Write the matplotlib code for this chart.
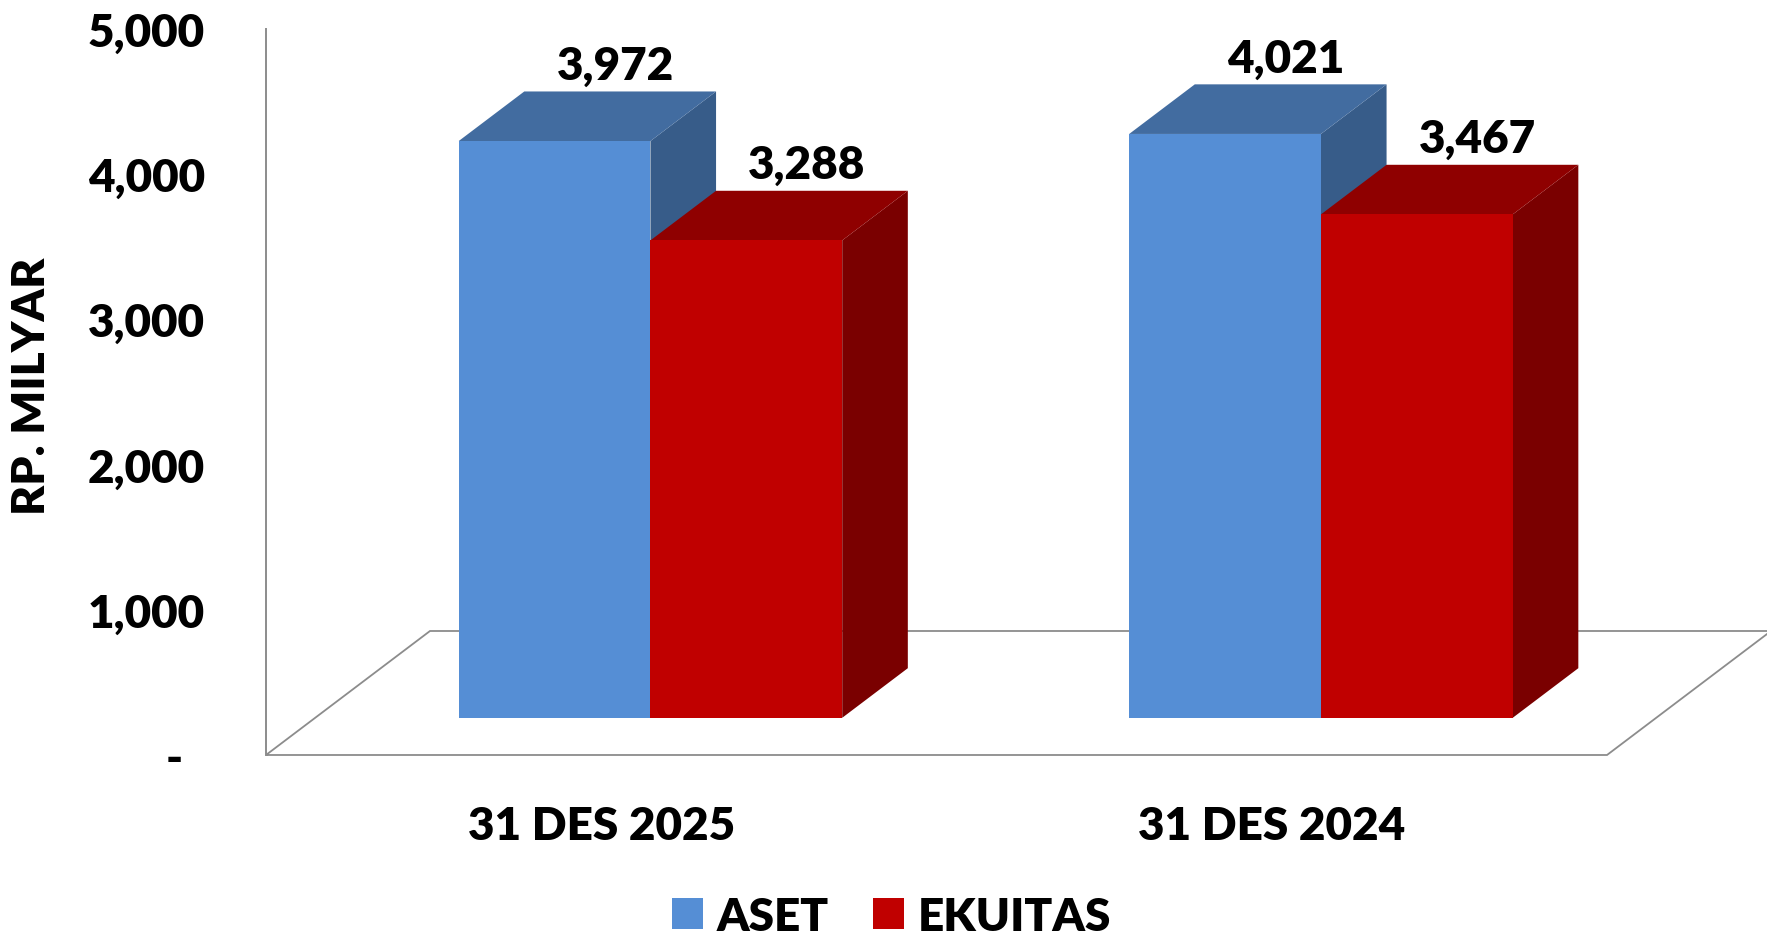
import matplotlib
matplotlib.use("Agg")
import matplotlib.pyplot as plt
from matplotlib.patches import Polygon, Patch

categories = ['31 DES 2025', '31 DES 2024']
series = ['ASET', 'EKUITAS']
aset = [3972, 4021]
ekuitas = [3288, 3467]
y_ticks = [0, 1000, 2000, 3000, 4000, 5000]
y_tick_labels = ['-', '1,000', '2,000', '3,000', '4,000', '5,000']

front_colors = ['#558ED5', '#C00000']
top_colors = ['#426CA0', '#8F0000']
side_colors = ['#375C89', '#7A0000']
line_gray = '#8C8C8C'

# oblique 3d look: the full floor depth shifts a point by (DX, DY) in data units
DX, DY = 0.2446, 854
Z0, Z1 = 0.30, 0.70      # bars sit in the middle of the floor depth
BAR_W = 0.286


def proj(x, v, z):
    return (x + z * DX, v + z * DY)


plt.rcParams['font.family'] = ['Lato', 'DejaVu Sans']
plt.rcParams['font.weight'] = 'heavy'
plt.rcParams['font.size'] = 33

fig = plt.figure(figsize=(17.67, 9.37), dpi=100)
ax = fig.add_axes([0, 0, 1, 1])
ax.set_xlim(-0.8967, 1.7386)
ax.set_ylim(-1246.6, 5206.6)

# floor
n = len(categories)
floor = [proj(-0.5, 0, 0), proj(n - 0.5, 0, 0), proj(n - 0.5, 0, 1), proj(-0.5, 0, 1)]
ax.add_patch(Polygon(floor, closed=True, fill=False, edgecolor=line_gray, lw=1.3, zorder=1))

# bars, drawn left to right so the later ones cover the earlier sides
values = [aset, ekuitas]
for i in range(n):
    for j in range(len(series)):
        v = values[j][i]
        x0 = i - BAR_W + j * BAR_W
        x1 = x0 + BAR_W
        side = [proj(x1, 0, Z0), proj(x1, 0, Z1), proj(x1, v, Z1), proj(x1, v, Z0)]
        top = [proj(x0, v, Z0), proj(x1, v, Z0), proj(x1, v, Z1), proj(x0, v, Z1)]
        front = [proj(x0, 0, Z0), proj(x1, 0, Z0), proj(x1, v, Z0), proj(x0, v, Z0)]
        ax.add_patch(Polygon(side, closed=True, facecolor=side_colors[j], edgecolor='none', zorder=2))
        ax.add_patch(Polygon(top, closed=True, facecolor=top_colors[j], edgecolor='none', zorder=2))
        ax.add_patch(Polygon(front, closed=True, facecolor=front_colors[j], edgecolor='none', zorder=2))
        lx, ly = proj((x0 + x1) / 2, v, Z1 - 0.03)
        ax.annotate(f'{v:,}', xy=(lx, ly), xytext=(0, 12), textcoords='offset points',
                    ha='center', va='baseline', zorder=3)

# value axis
for s in ['top', 'right', 'bottom']:
    ax.spines[s].set_visible(False)
ax.spines['left'].set_position(('data', -0.5))
ax.spines['left'].set_bounds(0, 5000)
ax.spines['left'].set_color(line_gray)
ax.spines['left'].set_linewidth(1.4)
ax.set_yticks(y_ticks[1:], y_tick_labels[1:])
ax.tick_params(axis='y', length=0, pad=44)
ax.set_xticks([])
ax.annotate(y_tick_labels[0], xy=(-0.5, 0), xytext=(-60, 0), textcoords='offset points',
            ha='right', va='center_baseline')

# category labels
for i, c in enumerate(categories):
    ax.annotate(c, xy=(i, 0), xytext=(0, -60.5), textcoords='offset points',
                ha='center', va='baseline')

ax.text(-0.849, 2548, 'RP. MILYAR', rotation=90, ha='center', va='center')

handles = [Patch(facecolor=front_colors[0]), Patch(facecolor=front_colors[1])]
fig.legend(handles, series, loc='center', bbox_to_anchor=(0.5045, 0.0213), ncol=2,
           frameon=False, handlelength=0.67, handleheight=0.67, handletextpad=0.3,
           columnspacing=0.96, borderaxespad=0, borderpad=0)

fig.savefig('out.png', dpi=100)
